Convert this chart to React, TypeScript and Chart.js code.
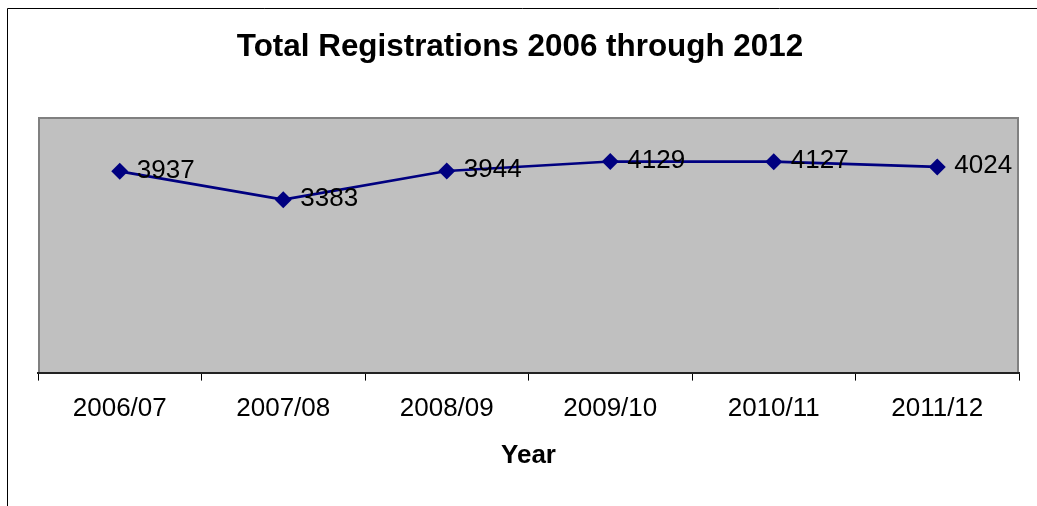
import React, { useEffect, useRef } from "react";
import { Chart, registerables } from "chart.js";

Chart.register(...registerables);

const categories = ["2006/07", "2007/08", "2008/09", "2009/10", "2010/11", "2011/12"];
const registrations = [3937, 3383, 3944, 4129, 4127, 4024];
const chartTitle = "Total Registrations 2006 through 2012";
const xTitle = "Year";

const FONT = "'Liberation Sans', Arial, sans-serif";

const plotBackground = {
  id: "plotBackground",
  beforeDraw(chart: any) {
    const { ctx, chartArea } = chart;
    const { left, top, right, bottom } = chartArea;
    ctx.save();
    // outer frame
    ctx.strokeStyle = "#000";
    ctx.lineWidth = 1;
    ctx.beginPath();
    ctx.moveTo(7.5, chart.height);
    ctx.lineTo(7.5, 8.5);
    ctx.lineTo(chart.width, 8.5);
    ctx.stroke();
    // title, centred on the whole canvas
    ctx.fillStyle = "#000";
    ctx.font = `bold 31.4px ${FONT}`;
    ctx.textAlign = "center";
    ctx.textBaseline = "middle";
    ctx.fillText(chartTitle, 520, 47);
    // plot area
    ctx.fillStyle = "#C0C0C0";
    ctx.fillRect(left, top, right - left, bottom - top);
    ctx.strokeStyle = "#808080";
    ctx.lineWidth = 2;
    ctx.beginPath();
    ctx.moveTo(left + 1, bottom);
    ctx.lineTo(left + 1, top + 1);
    ctx.lineTo(right - 1, top + 1);
    ctx.lineTo(right - 1, bottom);
    ctx.stroke();
    ctx.restore();
  },
};

const valueLabels = {
  id: "valueLabels",
  afterDatasetsDraw(chart: any) {
    const { ctx } = chart;
    const meta = chart.getDatasetMeta(0);
    const data = chart.data.datasets[0].data;
    ctx.save();
    ctx.font = `26px ${FONT}`;
    ctx.fillStyle = "#000";
    ctx.textAlign = "left";
    ctx.textBaseline = "middle";
    meta.data.forEach((pt: any, i: number) => {
      ctx.fillText(String(data[i]), pt.x + 17, pt.y - 1);
    });
    ctx.restore();
  },
};

export default function App() {
  const ref = useRef<HTMLCanvasElement | null>(null);
  useEffect(() => {
    if (!ref.current) return;
    const chart = new Chart(ref.current, {
      type: "line",
      data: {
        labels: categories,
        datasets: [
          {
            label: "Registrations",
            data: registrations,
            borderColor: "#000080",
            backgroundColor: "#000080",
            borderWidth: 2.7,
            pointStyle: "rectRot",
            pointRadius: 8.5,
            pointBorderWidth: 0,
            pointBackgroundColor: "#000080",
            tension: 0,
          },
        ],
      },
      options: {
        responsive: false,
        animation: false,
        devicePixelRatio: 1,
        layout: { padding: { left: 38, right: 18, top: 117, bottom: 33 } },
        plugins: {
          legend: { display: false },
          tooltip: { enabled: false },
          title: { display: false },
        },
        scales: {
          x: {
            offset: true,
            grid: {
              offset: true,
              drawOnChartArea: false,
              drawTicks: true,
              tickLength: 8,
              color: "#000",
            },
            border: { display: true, color: "#222", width: 2 },
            ticks: {
              color: "#000",
              padding: 13,
              font: { family: FONT, size: 26 },
              maxRotation: 0,
            },
            title: {
              display: true,
              text: xTitle,
              color: "#000",
              font: { family: FONT, size: 26, weight: "bold" },
              padding: { top: 2, bottom: 2 },
            },
          },
          y: {
            display: false,
            min: 0,
            max: 5000,
          },
        },
      },
      plugins: [plotBackground, valueLabels],
    });
    return () => chart.destroy();
  }, []);
  return (
    <div style={{ position: "fixed", left: 0, top: 0, width: 1037, height: 506, background: "#fff" }}>
      <canvas ref={ref} width={1037} height={506} style={{ display: "block", width: 1037, height: 506 }} />
    </div>
  );
}
